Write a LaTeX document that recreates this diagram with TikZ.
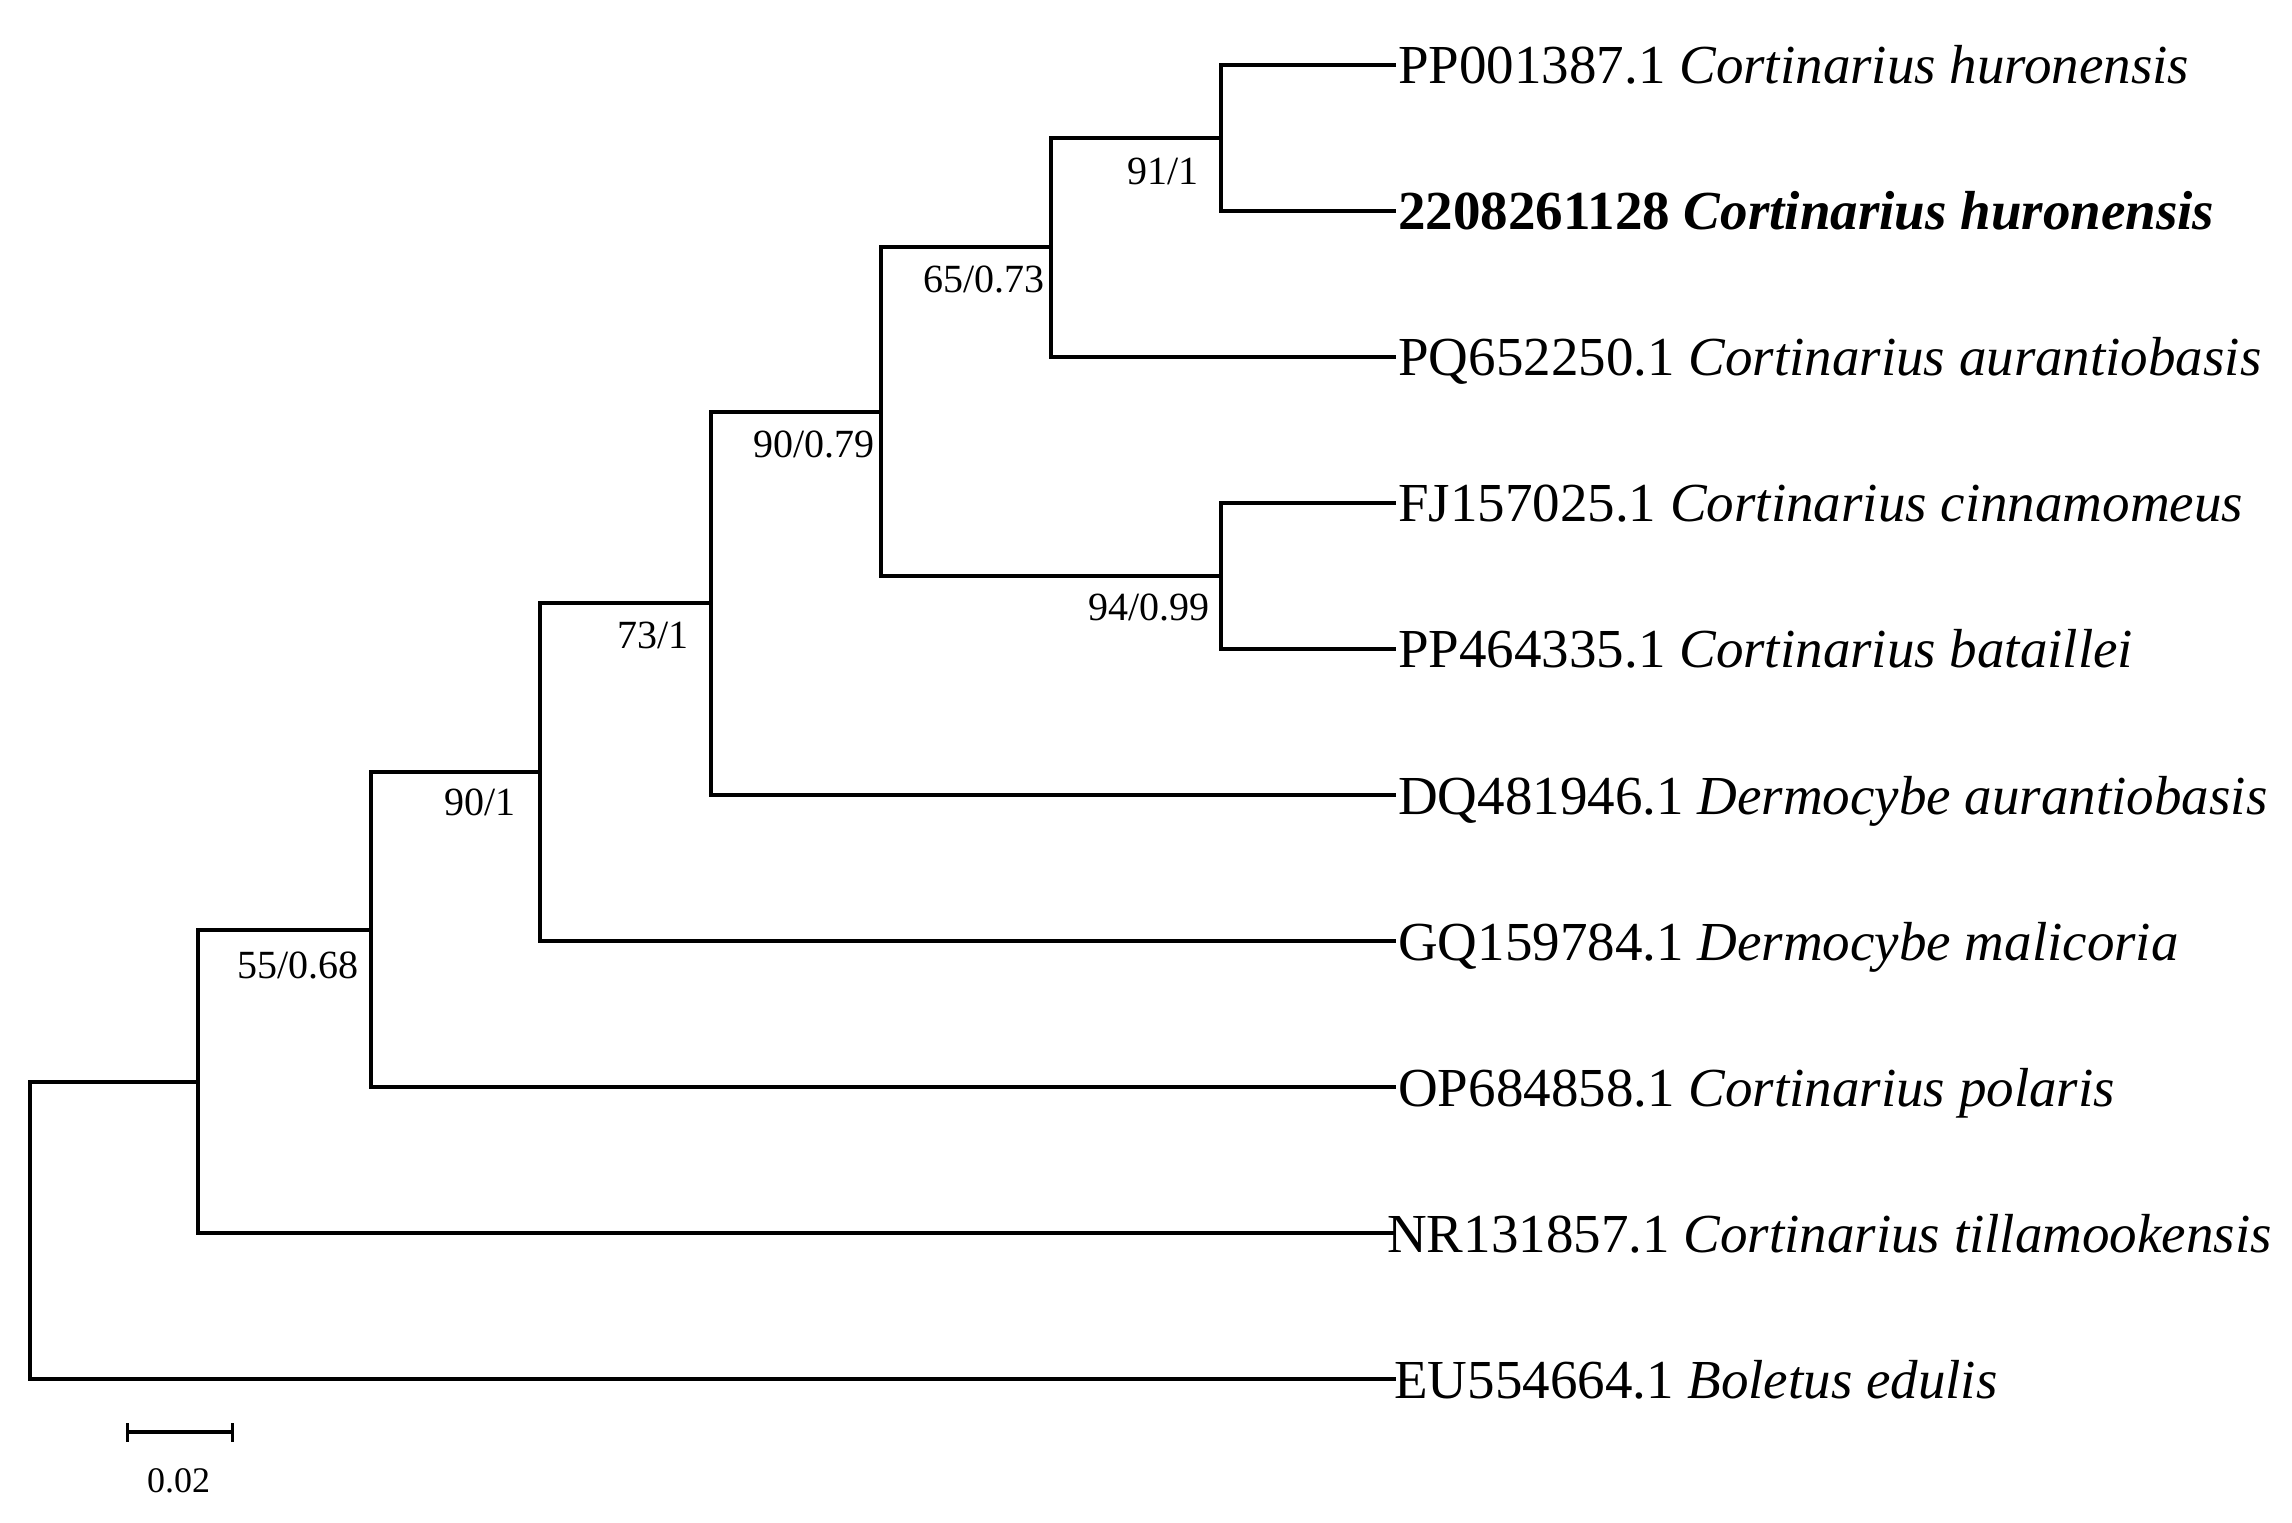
\documentclass[tikz,border=0pt]{standalone}
\usepackage{fontspec}
\setmainfont{Liberation Serif}
\begin{document}
\begin{tikzpicture}[x=1pt,y=-1pt,
  branch/.style={line width=4pt,line join=miter,draw=black},
  leaflab/.style={anchor=base west,inner sep=0pt,font=\fontsize{55}{60}\selectfont},
  boot/.style={anchor=base east,inner sep=0pt,font=\fontsize{40}{44}\selectfont},
  scalelab/.style={anchor=base,inner sep=0pt,font=\fontsize{36}{40}\selectfont}]
\useasboundingbox (0,0) rectangle (2292,1523);
% leaf tips
\coordinate (t0) at (1396,64.5);
\coordinate (t1) at (1396,210.6);
\coordinate (t2) at (1396,356.7);
\coordinate (t3) at (1396,502.8);
\coordinate (t4) at (1396,648.9);
\coordinate (t5) at (1396,795.0);
\coordinate (t6) at (1396,941.1);
\coordinate (t7) at (1396,1087.2);
\coordinate (t8) at (1396,1233.3);
\coordinate (t9) at (1396,1379.4);
% internal nodes
\coordinate (nA) at (1220.5,137.5);
\coordinate (nB) at (1051,247.1);
\coordinate (nH) at (1220.5,575.85);
\coordinate (nC) at (881,411.5);
\coordinate (nD) at (710.7,603.25);
\coordinate (nE) at (540,772.2);
\coordinate (nF) at (370.5,929.7);
\coordinate (nG) at (198,1081.5);
\coordinate (nR) at (29.5,1230.5);
% branches
\draw[branch] (nA) |- (t0);
\draw[branch] (nA) |- (t1);
\draw[branch] (nB) |- (nA);
\draw[branch] (nB) |- (t2);
\draw[branch] (nH) |- (t3);
\draw[branch] (nH) |- (t4);
\draw[branch] (nC) |- (nB);
\draw[branch] (nC) |- (nH);
\draw[branch] (nD) |- (nC);
\draw[branch] (nD) |- (t5);
\draw[branch] (nE) |- (nD);
\draw[branch] (nE) |- (t6);
\draw[branch] (nF) |- (nE);
\draw[branch] (nF) |- (t7);
\draw[branch] (nG) |- (nF);
\draw[branch] (nG) |- (t8);
\draw[branch] (nR) |- (nG);
\draw[branch] (nR) |- (t9);
% leaf labels
\node[leaflab] (L0) at (1398,83.5) {PP001387.1 \textit{Cortinarius huronensis}};
\node[leaflab] (L1) at (1398,229.6) {\textbf{2208261128 \textit{Cortinarius huronensis}}};
\node[leaflab] (L2) at (1398,375.7) {PQ652250.1 \textit{Cortinarius aurantiobasis}};
\node[leaflab] (L3) at (1398,521.8) {FJ157025.1 \textit{Cortinarius cinnamomeus}};
\node[leaflab] (L4) at (1398,667.9) {PP464335.1 \textit{Cortinarius bataillei}};
\node[leaflab] (L5) at (1398,814.0) {DQ481946.1 \textit{Dermocybe aurantiobasis}};
\node[leaflab] (L6) at (1398,960.1) {GQ159784.1 \textit{Dermocybe malicoria}};
\node[leaflab] (L7) at (1398,1106.2) {OP684858.1 \textit{Cortinarius polaris}};
\node[leaflab] (L8) at (1387,1252.3) {NR131857.1 \textit{Cortinarius tillamookensis}};
\node[leaflab] (L9) at (1394,1398.4) {EU554664.1 \textit{Boletus edulis}};
% support values
\node[boot] (bA) at (1199,184) {91/1};
\node[boot] (bB) at (1045,292) {65/0.73};
\node[boot] (bC) at (875,457) {90/0.79};
\node[boot] (bH) at (1210,620) {94/0.99};
\node[boot] (bD) at (689,648) {73/1};
\node[boot] (bE) at (516,815) {90/1};
\node[boot] (bF) at (359,978) {55/0.68};
% scale bar
\coordinate (sL) at (127.7,1431.8);
\coordinate (sR) at (232,1431.8);
\draw[line width=4pt] (sL) -- (sR);
\draw[line width=3pt] ([yshift=-10pt]sL) -- ([yshift=9pt]sL);
\draw[line width=3pt] ([yshift=-10pt]sR) -- ([yshift=9pt]sR);
\node[scalelab] (sLab) at (178.6,1492) {0.02};
\end{tikzpicture}
\end{document}
